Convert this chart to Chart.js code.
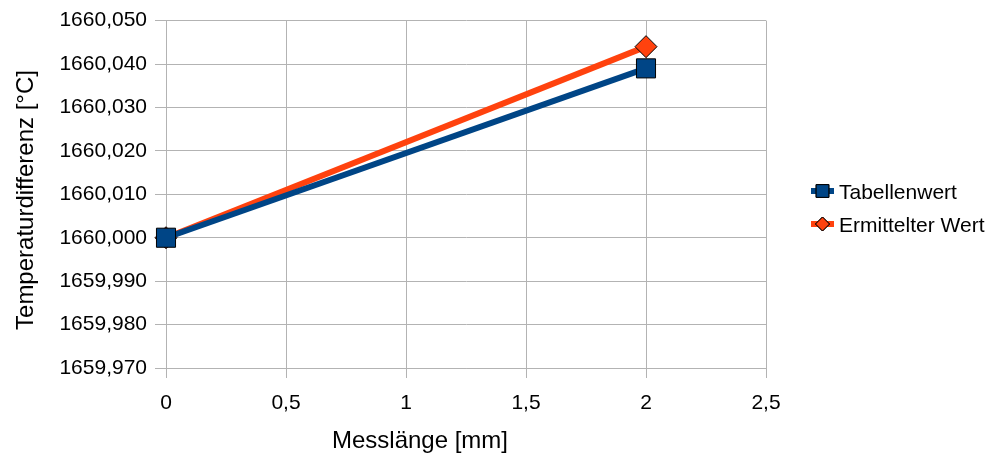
<!DOCTYPE html>
<html>
<head>
<meta charset="utf-8">
<script src="https://cdn.jsdelivr.net/npm/chart.js@4.4.1/dist/chart.umd.min.js"></script>
<style>
  html, body { margin: 0; padding: 0; background: #fff; }
  #wrap { width: 994px; height: 457px; position: relative; }
</style>
</head>
<body>
<div id="wrap"><canvas id="chart" width="994" height="457"></canvas></div>
<script>
// data
const xValues = [0, 2];
const tabellenwert = [1660.000, 1660.039];
const ermittelterWert = [1660.000, 1660.044];
const seriesNames = ["Tabellenwert", "Ermittelter Wert"];
const xTicks = [0, 0.5, 1, 1.5, 2, 2.5];
const yTicks = [1659.97, 1659.98, 1659.99, 1660.00, 1660.01, 1660.02, 1660.03, 1660.04, 1660.05];
const xTitle = "Messlänge [mm]";
const yTitle = "Temperaturdifferenz [°C]";

const BLUE = "#004586";
const ORANGE = "#ff420e";
const GRID = "#b3b3b3";
const FONT = "'Liberation Sans', Arial, sans-serif";

const fmt = (v, d) => v.toFixed(d).replace(".", ",");
const fmtX = v => (Number.isInteger(v) ? String(v) : fmt(v, 1));

// legend + axis titles drawn by hand (line + marker legend samples)
const extras = {
  id: "extras",
  afterDraw(chart) {
    const ctx = chart.ctx;
    ctx.save();
    ctx.fillStyle = "#000";
    ctx.textBaseline = "middle";

    // axis titles
    ctx.font = "24px " + FONT;
    ctx.textAlign = "center";
    ctx.fillText(xTitle, 420, 441);
    ctx.save();
    ctx.translate(26, 200);
    ctx.rotate(-Math.PI / 2);
    ctx.fillText(yTitle, 0, 0);
    ctx.restore();

    // legend
    const items = [
      { label: seriesNames[0], color: BLUE, style: "rect", r: 9, y: 191 },
      { label: seriesNames[1], color: ORANGE, style: "rectRot", r: 7, y: 224 }
    ];
    items.forEach(it => {
      ctx.strokeStyle = it.color;
      ctx.lineWidth = 6;
      ctx.beginPath();
      ctx.moveTo(811, it.y);
      ctx.lineTo(834, it.y);
      ctx.stroke();
      ctx.fillStyle = it.color;
      ctx.strokeStyle = "#000";
      ctx.lineWidth = 1;
      Chart.helpers.drawPoint(ctx, { pointStyle: it.style, radius: it.r, borderWidth: 1 }, 822.5, it.y);
      ctx.fill();
      ctx.stroke();
      ctx.fillStyle = "#000";
      ctx.font = "21px " + FONT;
      ctx.textAlign = "left";
      ctx.fillText(it.label, 839, it.y + 2);
    });
    ctx.restore();
  }
};

new Chart(document.getElementById("chart"), {
  type: "line",
  data: {
    datasets: [
      {
        label: seriesNames[0],
        data: xValues.map((x, i) => ({ x, y: tabellenwert[i] })),
        borderColor: BLUE,
        backgroundColor: BLUE,
        borderWidth: 6,
        pointStyle: "rect",
        pointRadius: 13.5,
        pointBorderColor: "#000",
        pointBorderWidth: 1,
        tension: 0,
        clip: false
      },
      {
        label: seriesNames[1],
        data: xValues.map((x, i) => ({ x, y: ermittelterWert[i] })),
        borderColor: ORANGE,
        backgroundColor: ORANGE,
        borderWidth: 6,
        pointStyle: "rectRot",
        pointRadius: 11,
        pointBorderColor: "#000",
        pointBorderWidth: 1,
        tension: 0,
        clip: false
      }
    ]
  },
  options: {
    responsive: false,
    animation: false,
    events: [],
    layout: { padding: { top: 20, right: 228, bottom: 0, left: 0 } },
    plugins: {
      legend: { display: false },
      tooltip: { enabled: false }
    },
    scales: {
      x: {
        type: "linear",
        min: 0,
        max: 2.5,
        afterBuildTicks: s => { s.ticks = xTicks.map(v => ({ value: v })); },
        afterFit: s => { s.height = 89; },
        grid: { color: GRID, tickLength: 10, drawTicks: true },
        border: { color: GRID },
        ticks: {
          color: "#000",
          font: { family: FONT, size: 21 },
          padding: 13,
          maxRotation: 0,
          callback: v => fmtX(v)
        }
      },
      y: {
        type: "linear",
        min: 1659.97,
        max: 1660.05,
        afterBuildTicks: s => { s.ticks = yTicks.map(v => ({ value: v })); },
        afterFit: s => { s.width = 166; },
        grid: { color: GRID, tickLength: 11, drawTicks: true },
        border: { color: GRID },
        ticks: {
          color: "#000",
          font: { family: FONT, size: 21 },
          padding: 8,
          callback: v => fmt(v, 3)
        }
      }
    }
  },
  plugins: [extras]
});
</script>
</body>
</html>
